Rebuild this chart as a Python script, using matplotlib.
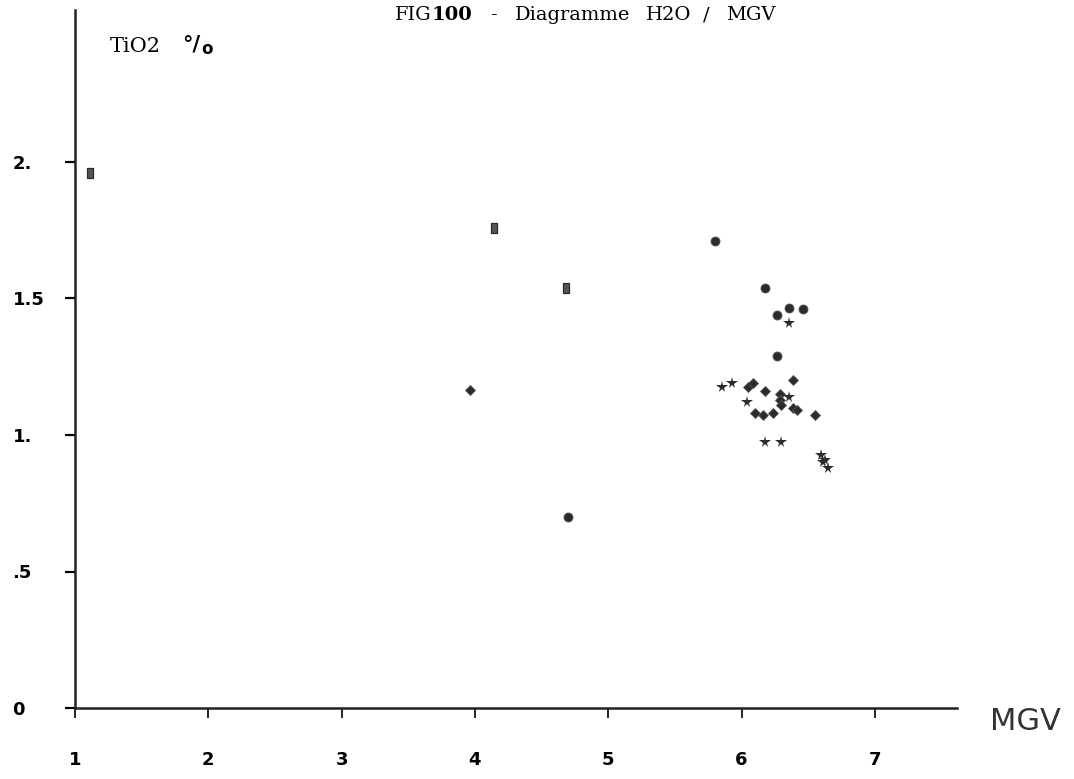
import numpy as np
import matplotlib
matplotlib.use("Agg")
import matplotlib.pyplot as plt

# ---- data (MGV, TiO2 %) ----
rect_x = [1.11, 4.14, 4.68]
rect_y = [1.96, 1.76, 1.54]

circ_x = [5.80, 6.18, 6.27, 6.36, 6.46, 6.27, 4.70]
circ_y = [1.71, 1.54, 1.44, 1.465, 1.46, 1.29, 0.70]

diam_x = [3.96, 6.05, 6.09, 6.18, 6.39, 6.29, 6.29, 6.30, 6.39, 6.42, 6.10, 6.16, 6.24, 6.55]
diam_y = [1.165, 1.175, 1.19, 1.16, 1.20, 1.15, 1.13, 1.11, 1.10, 1.09, 1.08, 1.075, 1.08, 1.075]

star_x = [5.85, 5.93, 6.04, 6.36, 6.36, 6.18, 6.30, 6.60, 6.63, 6.61, 6.65]
star_y = [1.175, 1.19, 1.12, 1.14, 1.41, 0.975, 0.975, 0.925, 0.91, 0.90, 0.88]

x_ticks = [1, 2, 3, 4, 5, 6, 7]
x_labels = ["1", "2", "3", "4", "5", "6", "7"]
y_ticks = [0, 0.5, 1, 1.5, 2]
y_labels = ["0", ".5", "1.", "1.5", "2."]

# ==========================================================================

W, H = 1074, 779
fig = plt.figure(figsize=(W / 100, H / 100), dpi=100)
ax = fig.add_axes([75 / W, (H - 708) / H, (957 - 75) / W, (708 - 10) / H])
ax.set_xlim(1, 1 + (957 - 75) / 133.3)
ax.set_ylim(0, (708 - 10) / 273.0)

ink = "#2b2b2b"
tall_rect = [(-0.6, -1), (0.6, -1), (0.6, 1), (-0.6, 1), (-0.6, -1)]
ax.plot(rect_x, rect_y, linestyle="none", marker=tall_rect, markersize=7.5,
        color="#555555", markeredgecolor=ink, markeredgewidth=0.9)
ax.plot(circ_x, circ_y, linestyle="none", marker="o", markersize=6.5,
        color=ink, markeredgecolor="#555555", markeredgewidth=0.6)
ax.plot(diam_x, diam_y, linestyle="none", marker="D", markersize=5.5,
        color=ink, markeredgecolor="#555555", markeredgewidth=0.6)
ax.plot(star_x, star_y, linestyle="none", marker="*", markersize=8.5,
        color=ink, markeredgewidth=0)

for side in ["top", "right"]:
    ax.spines[side].set_visible(False)
for side in ["left", "bottom"]:
    ax.spines[side].set_linewidth(1.8)
    ax.spines[side].set_color("#222222")

ax.set_xticks(x_ticks, x_labels)
ax.set_yticks(y_ticks, y_labels)
ax.tick_params(axis="x", direction="out", length=7, width=1.2, pad=24,
               labelsize=13)
ax.tick_params(axis="y", direction="out", length=7, width=1.6, pad=38,
               labelsize=13)
for lab in ax.get_xticklabels() + ax.get_yticklabels():
    lab.set_fontweight("bold")
for lab in ax.get_yticklabels():
    lab.set_horizontalalignment("left")

# title, pieces placed where the scan puts them
ty = 1 - 15 / H
serif = dict(family="DejaVu Serif", fontsize=14, va="center", ha="left")
fig.text(395 / W, ty, "FIG", **serif)
fig.text(432 / W, ty, "100", fontweight="bold", **serif)
fig.text(490 / W, ty, "-", **serif)
fig.text(515 / W, ty, "Diagramme", **serif)
fig.text(646 / W, ty, "H2O", **serif)
fig.text(703 / W, ty, "/", **serif)
fig.text(726 / W, ty, "MGV", **serif)

fig.text(110 / W, 1 - 47 / H, "TiO2", family="DejaVu Serif", fontsize=15,
         ha="left", va="center")
fig.text(182 / W, 1 - 44 / H, "°/", family="DejaVu Sans", fontsize=15,
         fontweight="bold", ha="left", va="center")
fig.text(201 / W, 1 - 49 / H, "o", family="DejaVu Sans", fontsize=12,
         fontweight="bold", ha="left", va="center")

fig.text(1025 / W, 1 - 722 / H, "MGV", family="DejaVu Sans",
         fontsize=22, ha="center", va="center", color="#333333")

fig.savefig("out.png", dpi=100)
